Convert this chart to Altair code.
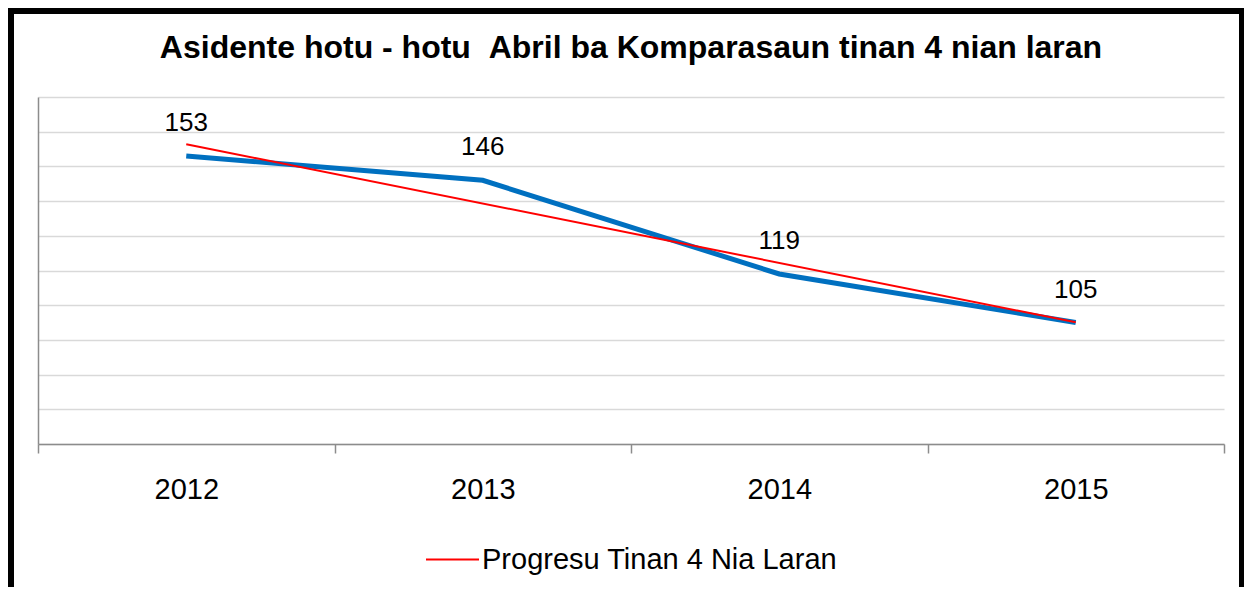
import altair as alt
import pandas as pd

years = [2012, 2013, 2014, 2015]
values = [153, 146, 119, 105]
title_text = "Asidente hotu - hotu \u00a0Abril ba Komparasaun tinan 4 nian laran"
trend_label = "Progresu Tinan 4 Nia Laran"
y_ticks = list(range(70, 171, 10))

FONT = "Liberation Sans"
W, H = 1186, 347

df = pd.DataFrame({"year": years, "value": values})
base = alt.Chart(df)

x_enc = alt.X(
    "year:O",
    scale=alt.Scale(type="band", paddingInner=0, paddingOuter=0),
    axis=alt.Axis(
        title=None, labelAngle=0, tickBand="extent", tickSize=9,
        tickColor="#8c8c8c", domainColor="#8c8c8c", tickWidth=1.5, domainWidth=1.5,
        labelFontSize=29, labelFont=FONT, labelColor="black", labelPadding=22,
        grid=False,
    ),
)
y_enc = alt.Y(
    "value:Q",
    scale=alt.Scale(domain=[70, 170], nice=False, zero=False),
    axis=alt.Axis(
        title=None, values=y_ticks, labels=False, ticks=False, grid=True,
        gridColor="#d9d9d9", gridWidth=1.5, domainColor="#8c8c8c", domainWidth=1.5,
        tickCount=50, labelOverlap=False,
    ),
)

blue = base.mark_line(color="#0070C0", strokeWidth=5).encode(x=x_enc, y=y_enc)

red = (
    base.transform_regression("year", "value")
    .transform_calculate(series=f"'{trend_label}'")
    .mark_line(strokeWidth=2)
    .encode(
        x=x_enc,
        y=y_enc,
        color=alt.Color(
            "series:N",
            scale=alt.Scale(domain=[trend_label], range=["#ff0000"]),
            legend=alt.Legend(
                title=None, orient="none", legendX=387, legendY=435,
                symbolType="stroke", symbolSize=2809, symbolStrokeWidth=2,
                labelFontSize=29, labelFont=FONT, labelColor="black",
                labelOffset=2, padding=0, labelLimit=600,
            ),
        ),
    )
)

labels = base.mark_text(dy=-33, fontSize=26, font=FONT, color="black").encode(
    x=x_enc, y=y_enc, text=alt.Text("value:Q")
)

frame = alt.Chart(pd.DataFrame({"f": [0]})).mark_rect(
    fill="transparent", stroke="black", strokeWidth=6, clip=False
).encode(
    x=alt.value(-27), x2=alt.value(W + 18), y=alt.value(-86), y2=alt.value(H + 200)
)

chart = alt.layer(blue, red, labels, frame).properties(
    width=W, height=H,
    title=alt.Title(
        title_text, fontSize=32, font=FONT, fontWeight="bold", color="black",
        anchor="middle", frame="group", baseline="alphabetic", offset=-82,
    ),
    autosize=alt.AutoSizeParams(type="none"),
    padding={"left": 30, "top": 89, "right": 20, "bottom": 143},
    background="white",
).configure_view(stroke=None)

chart.save("out.html", embed_options={"renderer": "svg", "actions": False})
